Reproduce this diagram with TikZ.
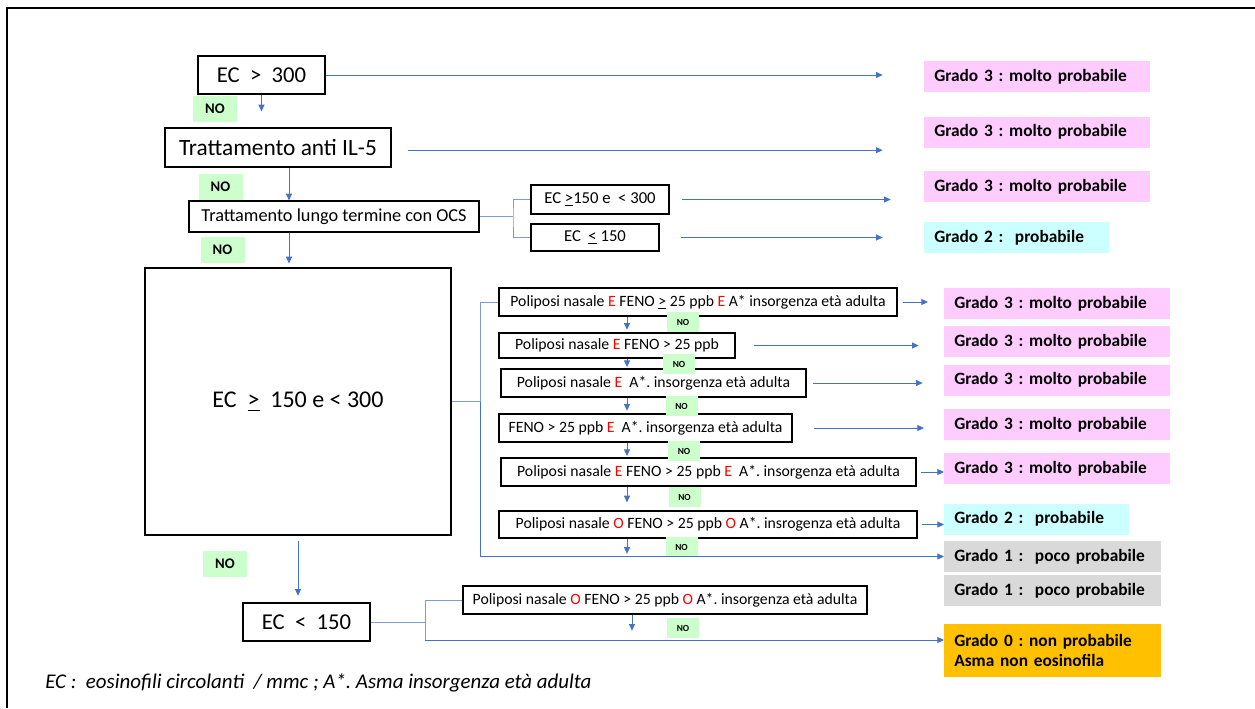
\documentclass[tikz,border=0pt]{standalone}
\usepackage{fontspec}
\setmainfont{Carlito}
\usetikzlibrary{arrows.meta}

\definecolor{lineblue}{RGB}{68,114,196}
\definecolor{gradepink}{RGB}{255,204,255}
\definecolor{gradecyan}{RGB}{204,255,255}
\definecolor{gradegray}{RGB}{217,217,217}
\definecolor{gradeorange}{RGB}{255,192,0}
\definecolor{nogreen}{RGB}{204,255,204}

\newcommand{\rE}{\textcolor{red}{E}}
\newcommand{\rO}{\textcolor{red}{O}}

\tikzset{
  bigbox/.style={draw, line width=0.9pt, font=\fontsize{17}{20}\selectfont},
  midbox/.style={draw, line width=0.9pt, font=\fontsize{13.7}{15}\selectfont},
  condbox/.style={draw, line width=0.9pt, font=\fontsize{11.8}{14}\selectfont},
  grade/.style={anchor=west, align=left, inner xsep=7.5pt, minimum height=23.25pt,
                font=\bfseries\fontsize{13}{15.5}\selectfont},
  nobig/.style={fill=nogreen, minimum width=33pt, minimum height=19.5pt,
                font=\bfseries\fontsize{11}{13}\selectfont},
  nosmall/.style={fill=nogreen, minimum width=24pt, minimum height=14.5pt, inner sep=0pt,
                font=\bfseries\fontsize{7}{8}\selectfont},
  arr/.style={draw=lineblue, line width=0.7pt, -{Triangle[length=5pt,width=4.5pt]}},
  conn/.style={draw=lineblue!70, line width=0.7pt}
}

\frenchspacing
\hyphenpenalty=10000

\begin{document}
\begin{tikzpicture}[x=0.75pt, y=-0.75pt]
\fill[white] (0,0) rectangle (1255,708);
\useasboundingbox (0,0) rectangle (1255,708);
\draw[line width=1.5pt] (7,708) -- (7,8) -- (1255,8);

% main column
\node[bigbox, minimum width=95.25pt, minimum height=28.5pt] (ec300) at (261.5,75) {EC\ \ >\ \ 300};
\node[bigbox, font=\fontsize{17.5}{20}\selectfont, minimum width=169.5pt, minimum height=29.25pt] (anti) at (278,147.5) {Trattamento anti IL-5};
\node[midbox, minimum width=217.5pt, minimum height=23.25pt] (ocs) at (334,216.5) {Trattamento lungo termine con OCS};
\node[bigbox, font=\fontsize{18}{20}\selectfont, minimum width=229.5pt, minimum height=200.25pt] (big) at (298,401.5) {EC\ \ \underline{>}\ \ 150 e < 300};
\node[bigbox, minimum width=95.25pt, minimum height=28.5pt] (ec150) at (306.5,622) {EC\ \ <\ \ 150};

\node[midbox, font=\fontsize{12.5}{14}\selectfont, minimum width=103.5pt, minimum height=21.75pt] (ecmid) at (600,199.5) {EC \underline{>}150 e\ \ < 300};
\node[midbox, font=\fontsize{12.5}{14}\selectfont, minimum width=96pt, minimum height=20.25pt] (eclow) at (595,237.5) {EC \ \underline{<} 150};

% conditions
\node[condbox, minimum width=298.5pt, minimum height=21pt] (pa) at (698,302) {Poliposi nasale \rE{} FENO \underline{>} 25 ppb \rE{} A* insorgenza età adulta};
\node[condbox, minimum width=177pt, minimum height=18.75pt] (pb) at (617,345.5) {Poliposi nasale \rE{} FENO > 25 ppb};
\node[condbox, minimum width=228.75pt, minimum height=21pt] (pc) at (653.5,383) {Poliposi nasale \rE\ \ A*. insorgenza età adulta};
\node[condbox, minimum width=219.75pt, minimum height=21pt] (pd) at (645.5,428) {FENO > 25 ppb \rE\ \ A*. insorgenza età adulta};
\node[condbox, minimum width=311.25pt, minimum height=21pt] (pe) at (708.5,472) {Poliposi nasale \rE{} FENO > 25 ppb \rE\ \ A*. insorgenza età adulta};
\node[condbox, minimum width=313.5pt, minimum height=20.25pt] (pf) at (708,524.5) {Poliposi nasale \rO{} FENO > 25 ppb \rO{} A*. insrogenza età adulta};
\node[condbox, minimum width=303pt, minimum height=21pt] (pg) at (665,600) {Poliposi nasale \rO{} FENO > 25 ppb \rO{} A*. insorgenza età adulta};

% grades
\node[grade, fill=gradepink, text width=154.5pt] (g1) at (924,76.5) {Grado 3 : molto probabile};
\node[grade, fill=gradepink, text width=154.5pt] (g2) at (924,132) {Grado 3 : molto probabile};
\node[grade, fill=gradepink, text width=154.5pt] (g3) at (924,186.5) {Grado 3 : molto probabile};
\node[grade, fill=gradecyan, text width=123.75pt] (g4) at (924,237.5) {Grado 2 :\ \ probabile};
\node[grade, fill=gradepink, text width=154.5pt] (g5) at (944,303.5) {Grado 3 : molto probabile};
\node[grade, fill=gradepink, text width=154.5pt] (g6) at (944,341.5) {Grado 3 : molto probabile};
\node[grade, fill=gradepink, text width=154.5pt] (g7) at (944,380) {Grado 3 : molto probabile};
\node[grade, fill=gradepink, text width=154.5pt] (g8) at (944,424.5) {Grado 3 : molto probabile};
\node[grade, fill=gradepink, text width=154.5pt] (g9) at (944,468.5) {Grado 3 : molto probabile};
\node[grade, fill=gradecyan, text width=123.75pt] (g10) at (944,519) {Grado 2 :\ \ probabile};
\node[grade, fill=gradegray, text width=147.75pt] (g11) at (944,556.5) {\mbox{Grado 1 :\ \ poco probabile}};
\node[grade, fill=gradegray, text width=147.75pt] (g12) at (944,590.5) {\mbox{Grado 1 :\ \ poco probabile}};
\node[grade, fill=gradeorange, text width=147.75pt, minimum height=39.75pt] (g13) at (944,650.5) {Grado 0 : non probabile\\Asma non eosinofila};

% NO labels
\node[nobig] (no1) at (215,109) {NO};
\node[nobig] (no2) at (220.5,187) {NO};
\node[nobig] (no3) at (222.5,249.5) {NO};
\node[nobig] (no4) at (225,564) {NO};
\node[nosmall] (noa) at (683,322) {NO};
\node[nosmall] (nob) at (679,364) {NO};
\node[nosmall] (noc) at (681.5,406) {NO};
\node[nosmall] (nod) at (684,451) {NO};
\node[nosmall] (noe) at (684.5,497) {NO};
\node[nosmall] (nof) at (681.5,547) {NO};
\node[nosmall] (nog) at (683,628) {NO};

\node[anchor=west, inner sep=0pt, font=\itshape\fontsize{15.7}{18}\selectfont] (legend) at (45,683)
  {EC :\ \ eosinofili circolanti\ \ / mmc ; A*. Asma insorgenza età adulta};

% columns and brackets
\coordinate (colA) at (289,0);
\coordinate (colB) at (627,0);
\coordinate (colC) at (632,0);
\coordinate (brA) at (513,216.5);
\coordinate (brB) at (480,401.5);
\coordinate (brC) at (425,640);

% downward arrows
\draw[arr, shorten >=12pt] (ec300.south) -- (ec300.south |- anti.north);
\draw[arr] (colA |- anti.south) -- (colA |- ocs.north);
\draw[arr, shorten >=3pt] (colA |- ocs.south) -- (colA |- big.north);
\draw[arr, shorten <=4pt, shorten >=5pt] (big.south) -- (big.south |- ec150.north);
\draw[arr, shorten >=2pt] (colB |- pa.south) -- (colB |- pb.north);
\draw[arr, shorten >=1pt] (colB |- pb.south) -- (colB |- pc.north);
\draw[arr, shorten >=2pt] (colB |- pc.south) -- (colB |- pd.north);
\draw[arr, shorten >=1pt] (colB |- pd.south) -- (colB |- pe.north);
\draw[arr, shorten >=6pt] (colB |- pe.south) -- (colB |- pf.north);
\draw[arr, shorten >=2pt] (colB |- pf.south) -- (colB |- g11.west);
\draw[arr, shorten >=7pt] (colC |- pg.south) -- (colC |- brC);

% brackets
\draw[conn] (ocs.east) -- (brA);
\draw[conn] (ecmid.west) -| (brA) |- (eclow.west);
\draw[conn] (big.east) -- (brB);
\draw[conn] (pa.west) -| (brB);
\draw[arr] (brB) |- (g11.west);
\draw[conn] (ec150.east) -- (ec150.east -| brC);
\draw[conn] (pg.west) -| (brC);
\draw[arr] (brC) -- (brC -| g13.west);

% arrows to the grades
\draw[arr, shorten >=31pt] (ec300.east) -- (ec300.east -| g1.west);
\draw[arr, shorten <=12pt, shorten >=31pt] ([yshift=-2pt]anti.east) -- ([yshift=-2pt]anti.east -| g2.west);
\draw[arr, shorten <=9pt, shorten >=25pt] (ecmid.east) -- (ecmid.east -| g3.west);
\draw[arr, shorten <=16pt, shorten >=31pt] (eclow.east) -- (eclow.east -| g4.west);
\draw[arr, shorten <=4pt, shorten >=12pt] (pa.east) -- (pa.east -| g5.west);
\draw[arr, shorten <=14pt, shorten >=19pt] (pb.east) -- (pb.east -| g6.west);
\draw[arr, shorten <=5pt, shorten >=16pt] (pc.east) -- (pc.east -| g7.west);
\draw[arr, shorten <=16pt, shorten >=15pt] (pd.east) -- (pd.east -| g8.west);
\draw[arr, shorten <=3pt] (pe.east) -- (pe.east -| g9.west);
\draw[arr, shorten <=3pt] (pf.east) -- (pf.east -| g10.west);
\end{tikzpicture}
\end{document}
